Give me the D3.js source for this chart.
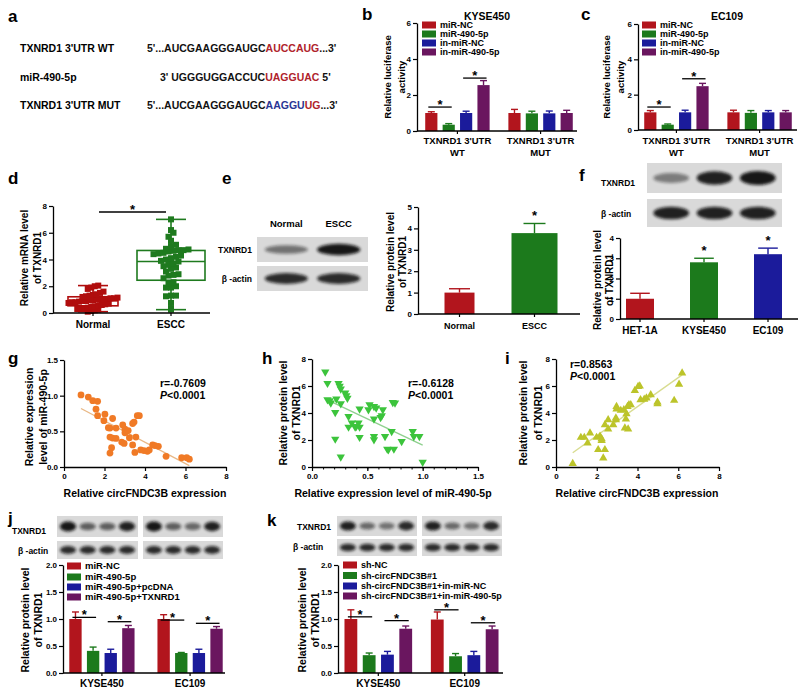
<!DOCTYPE html>
<html>
<head>
<meta charset="utf-8">
<script src="https://d3js.org/d3.v7.min.js"></script>
<style>
  body { margin: 0; background: #fff; }
  svg text { font-family: 'Liberation Sans', Arial, sans-serif; font-weight: bold; fill: #000; }
</style>
</head>
<body>
<div id="fig"></div>
<script>
// ---------- data ----------
// a: sequences
const seqLabels = ["TXNRD1 3'UTR WT", "miR-490-5p", "TXNRD1 3'UTR MUT"];
const seqParts = [
  [["5'...AUCGAAGGGAUGC", "k"], ["AUCCAUG", "r"], ["...3'", "k"]],
  [["3' UGGGUGGACCUC", "k"], ["UAGGUAC", "r"], [" 5'", "k"]],
  [["5'...AUCGAAGGGAUGC", "k"], ["AAGGU", "b"], ["UG", "r"], ["...3'", "k"]]
];

// b, c: luciferase
const lucSeries = ["miR-NC", "miR-490-5p", "in-miR-NC", "in-miR-490-5p"];
const lucGroups = [["TXNRD1 3'UTR", "WT"], ["TXNRD1 3'UTR", "MUT"]];
const lucTicks = [0, 2, 4, 6];
const bMean = [[1.0, 1.0], [0.35, 0.98], [1.0, 0.98], [2.55, 1.0]];
const bErr  = [[0.07, 0.2], [0.06, 0.12], [0.1, 0.13], [0.25, 0.15]];
const bSig  = [[0, 0, 1, 1.33], [0, 2, 3, 2.94]];
const cMean = [[1.0, 1.0], [0.3, 0.97], [1.0, 1.0], [2.48, 1.0]];
const cErr  = [[0.1, 0.12], [0.04, 0.13], [0.12, 0.1], [0.16, 0.1]];
const cSig  = [[0, 0, 1, 1.3], [0, 2, 3, 2.9]];

// d: mRNA
const dCats = ["Normal", "ESCC"];
const dTicks = [0, 2, 4, 6, 8];
const dNormal = [2.05, 2.0, 1.9, 1.8, 1.6, 1.5, 1.4, 1.35, 1.3, 1.25, 1.2, 1.15, 1.1, 1.1, 1.05, 1.0, 1.0, 1.0,
  0.95, 0.95, 0.9, 0.9, 0.85, 0.8, 0.8, 0.75, 0.7, 0.65, 0.6, 0.55, 0.5, 0.45, 0.4, 0.35, 0.3, 0.3, 0.25, 0.2, 0.15, 0.1];
const dEscc = [7.0, 6.2, 6.0, 5.7, 5.4, 5.1, 5.0, 4.8, 4.75, 4.7, 4.7, 4.65, 4.6, 4.5, 4.45, 4.4, 4.3, 4.2, 4.1, 4.0,
  3.9, 3.85, 3.7, 3.6, 3.5, 3.4, 3.3, 3.1, 2.9, 2.85, 2.8, 2.6, 2.3, 2.2, 2.0, 1.9, 1.9, 1.3, 1.3, 1.25, 0.75, 0.3, 0.25];

// e: protein tissue
const eCats = ["Normal", "ESCC"];
const eMean = [1.0, 3.78];
const eErr = [0.18, 0.45];
const eTicks = [0, 1, 2, 3, 4, 5];
const eTxnBands = [0.5, 0.95];
const eActBands = [0.85, 0.85];

// f: cell lines
const fCats = ["HET-1A", "KYSE450", "EC109"];
const fMean = [1.0, 2.8, 3.2];
const fErr = [0.27, 0.2, 0.3];
const fTicks = [0, 1, 2, 3, 4];
const fTxnBands = [0.45, 0.9, 0.95];
const fActBands = [0.9, 0.9, 0.9];

// g: circFNDC3B vs miR-490-5p
const gX = [0.84, 1.2, 1.42, 1.66, 1.58, 1.66, 2.02, 1.97, 2.4, 2.19, 2.27, 2.57, 2.27, 2.4, 2.57, 2.35, 2.27, 2.9, 3.01,
  3.01, 3.17, 3.23, 2.85, 2.97, 3.39, 3.46, 3.62, 3.72, 3.39, 3.55, 3.5, 3.79, 3.95, 4.12, 4.21, 4.38, 4.49, 4.66, 5.04, 5.81, 6.06, 6.19];
const gY = [1.01, 0.98, 0.93, 0.92, 0.81, 0.72, 0.74, 0.65, 0.68, 0.55, 0.545, 0.545, 0.42, 0.405, 0.4, 0.27, 0.195, 0.59, 0.53,
  0.48, 0.51, 0.41, 0.35, 0.33, 0.61, 0.63, 0.72, 0.72, 0.31, 0.42, 0.205, 0.24, 0.23, 0.22, 0.24, 0.31, 0.3, 0.29, 0.15, 0.13, 0.13, 0.11];

// h: miR-490-5p vs TXNRD1
const hX = [0.12, 0.14, 0.24, 0.25, 0.26, 0.14, 0.16, 0.17, 0.22, 0.26, 0.21, 0.3, 0.31, 0.32, 0.33, 0.36, 0.33, 0.39, 0.4, 0.43,
  0.42, 0.43, 0.43, 0.21, 0.26, 0.52, 0.51, 0.56, 0.58, 0.56, 0.62, 0.63, 0.64, 0.56, 0.56, 0.66, 0.68, 0.69, 0.73, 0.75, 0.72,
  0.74, 0.81, 0.91, 0.92, 0.97, 1.0];
const hY = [7.04, 6.2, 6.2, 5.98, 5.78, 4.99, 4.91, 4.74, 5.04, 4.69, 4.05, 5.48, 5.28, 5.1, 3.75, 3.26, 2.96, 2.96, 3.01, 2.96,
  3.26, 4.3, 2.2, 2.07, 0.74, 4.62, 4.25, 4.49, 4.37, 3.56, 3.68, 3.8, 4.25, 2.27, 2.02, 2.27, 1.33, 1.28, 4.79, 4.74, 2.64,
  1.33, 1.9, 2.64, 2.27, 2.27, 0.35];

// i: circFNDC3B vs TXNRD1
const iX = [0.82, 1.22, 1.39, 1.67, 1.55, 1.99, 2.16, 2.24, 2.24, 2.07, 2.4, 2.32, 2.4, 2.56, 2.56, 2.81, 2.94, 2.94, 2.97, 2.97,
  3.18, 3.33, 3.43, 3.46, 3.51, 3.58, 3.67, 3.38, 3.54, 3.87, 4.03, 4.11, 4.15, 4.33, 4.44, 4.65, 4.98, 4.98, 5.8, 6.04, 6.19];
const iY = [0.25, 2.19, 2.19, 2.51, 1.77, 2.19, 2.27, 2.09, 1.95, 1.28, 1.28, 0.66, 3.13, 3.5, 2.81, 3.13, 3.5, 3.62, 4.48, 4.29,
  4.19, 4.24, 3.55, 3.94, 4.48, 4.6, 4.6, 2.88, 2.81, 5.66, 5.96, 6.0, 4.98, 5.02, 5.1, 5.34, 4.8, 4.68, 4.93, 6.13, 6.95];

// j, k: rescue
const cellGroups = [["KYSE450"], ["EC109"]];
const rescueTicks = [0, 0.5, 1.0, 1.5, 2.0];
const jSeries = ["miR-NC", "miR-490-5p", "miR-490-5p+pcDNA", "miR-490-5p+TXNRD1"];
const jMean = [[1.0, 1.0], [0.41, 0.37], [0.37, 0.37], [0.83, 0.82]];
const jErr  = [[0.13, 0.08], [0.07, 0.01], [0.07, 0.07], [0.05, 0.04]];
const jSig  = [[0, 0, 1, 1.03], [0, 2, 3, 0.95], [1, 0, 1, 0.98], [1, 2, 3, 0.92]];
const jTxnBands = [0.95, 0.6, 0.6, 0.9, 0.95, 0.6, 0.55, 0.9];
const jActBands = [0.85, 0.85, 0.85, 0.85, 0.85, 0.85, 0.85, 0.85];
const kSeries = ["sh-NC", "sh-circFNDC3B#1", "sh-circFNDC3B#1+in-miR-NC", "sh-circFNDC3B#1+in-miR-490-5p"];
const kMean = [[1.0, 0.99], [0.33, 0.31], [0.34, 0.33], [0.82, 0.81]];
const kErr  = [[0.17, 0.14], [0.04, 0.05], [0.06, 0.07], [0.05, 0.06]];
const kSig  = [[0, 0, 1, 1.04], [0, 2, 3, 0.97], [1, 0, 1, 1.17], [1, 2, 3, 0.93]];
const kTxnBands = [0.9, 0.55, 0.5, 0.85, 0.9, 0.55, 0.5, 0.85];
const kActBands = [0.85, 0.85, 0.85, 0.85, 0.85, 0.85, 0.85, 0.85];

// ---------- style ----------
const FONT = "'Liberation Sans', Arial, sans-serif";
const RED = "#b2151d", GREEN = "#1c7a1c", BLUE = "#1b1b9b", PURPLE = "#6a165f";
const SERIES_COLORS = [RED, GREEN, BLUE, PURPLE];
const SEQ_COLORS = { k: "#111", r: "#b0232b", b: "#2a3594" };

const svg = d3.select("#fig").append("svg").attr("width", 800).attr("height", 688);
svg.append("defs").append("filter").attr("id", "blur")
  .attr("x", "-50%").attr("y", "-50%").attr("width", "200%").attr("height", "200%")
  .append("feGaussianBlur").attr("stdDeviation", 1.5);

function text(x, y, s, size, anchor) {
  return svg.append("text").attr("x", x).attr("y", y).attr("font-size", size)
    .attr("text-anchor", anchor || "start").text(s);
}
function panel(letter, x, y) { text(x, y, letter, 17); }

function yTitle(xs, cy, lines, size) {
  lines.forEach((l, i) => {
    const bx = xs[i] + size * 0.36;
    svg.append("text").attr("transform", `translate(${bx},${cy}) rotate(-90)`)
      .attr("font-size", size).attr("text-anchor", "middle").text(l);
  });
}

function styleAxis(ax) {
  ax.attr("font-family", FONT).attr("font-size", 8);
  ax.select(".domain").attr("stroke", "#000").attr("stroke-width", 1.3);
  ax.selectAll(".tick line").attr("stroke", "#000").attr("stroke-width", 1.2);
  ax.selectAll(".tick text").attr("font-weight", "bold");
}
function yAxis(y, x, ticks, fmt) {
  const ax = svg.append("g").attr("transform", `translate(${x},0)`)
    .call(d3.axisLeft(y).tickValues(ticks).tickFormat(fmt || d3.format("d")).tickSize(4).tickSizeOuter(0).tickPadding(2));
  styleAxis(ax);
}
function xAxisLine(x0, x1, y0, centers) {
  svg.append("line").attr("x1", x0).attr("x2", x1).attr("y1", y0).attr("y2", y0)
    .attr("stroke", "#000").attr("stroke-width", 1.3);
  centers.forEach(c => svg.append("line").attr("x1", c).attr("x2", c).attr("y1", y0).attr("y2", y0 + 3)
    .attr("stroke", "#000").attr("stroke-width", 1.2));
}

function errBar(cx, yTop, yErr, cap, color) {
  svg.append("line").attr("x1", cx).attr("x2", cx).attr("y1", yTop).attr("y2", yErr)
    .attr("stroke", color).attr("stroke-width", 1.4);
  svg.append("line").attr("x1", cx - cap / 2).attr("x2", cx + cap / 2).attr("y1", yErr).attr("y2", yErr)
    .attr("stroke", color).attr("stroke-width", 1.4);
}
function star(cx, y) { text(cx, y, "*", 13, "middle"); }

function legend(x, ys, labels, size) {
  labels.forEach((l, i) => {
    svg.append("rect").attr("x", x).attr("y", ys[i] - 3.5).attr("width", 14).attr("height", 7)
      .attr("fill", SERIES_COLORS[i]);
    text(x + 18, ys[i] + size * 0.36, l, size);
  });
}

// grouped bars: means[series][group]
function groupedBars(o) {
  const y = d3.scaleLinear().domain([0, o.max]).range([o.y0, o.yTop]);
  const gx = d3.scaleBand().domain(d3.range(o.groups.length)).range(o.range).paddingInner(o.padG);
  const sx = d3.scaleBand().domain(d3.range(o.means.length)).range([0, gx.bandwidth()]).padding(0.3);
  const cx = (gi, si) => gx(gi) + sx(si) + sx.bandwidth() / 2;
  o.means.forEach((row, si) => row.forEach((v, gi) => {
    svg.append("rect").attr("x", gx(gi) + sx(si)).attr("y", y(v)).attr("width", sx.bandwidth())
      .attr("height", o.y0 - y(v)).attr("fill", SERIES_COLORS[si]);
    errBar(cx(gi, si), y(v), y(v + o.errs[si][gi]), 7, SERIES_COLORS[si]);
  }));
  yAxis(y, o.axisX, o.ticks, o.fmt);
  const centers = o.groups.map((g, gi) => gx(gi) + gx.bandwidth() / 2);
  xAxisLine(o.axisX, o.axisEnd, o.y0, centers);
  o.groups.forEach((lines, gi) => lines.forEach((l, li) =>
    text(centers[gi], o.labelY + li * 12, l, o.labelSize, "middle")));
  o.sigs.forEach(([gi, a, b, v]) => {
    const x1 = cx(gi, a) - 3, x2 = cx(gi, b) + 3, yy = y(v);
    svg.append("line").attr("x1", x1).attr("x2", x2).attr("y1", yy).attr("y2", yy)
      .attr("stroke", "#000").attr("stroke-width", 1.3);
    star((x1 + x2) / 2, yy + 2);
  });
}

// simple bars: one value per category
function simpleBars(o) {
  const y = d3.scaleLinear().domain([0, o.max]).range([o.y0, o.yTop]);
  const x = d3.scaleBand().domain(o.cats).range(o.range);
  o.means.forEach((v, i) => {
    const c = x(o.cats[i]) + x.bandwidth() / 2, w = o.widths[i];
    svg.append("rect").attr("x", c - w / 2).attr("y", y(v)).attr("width", w).attr("height", o.y0 - y(v))
      .attr("fill", o.colors[i]);
    errBar(c, y(v), y(v + o.errs[i]), Math.min(w * 0.7, 22), o.colors[i]);
    if (o.stars[i]) star(c, y(v + o.errs[i]) - 3);
    text(c, o.labelY, o.cats[i], o.labelSize, "middle");
  });
  yAxis(y, o.axisX, o.ticks);
  xAxisLine(o.axisX, o.axisEnd, o.y0, o.cats.map(c => x(c) + x.bandwidth() / 2));
}

function blot(x, y, w, h, bands, lanes) {
  svg.append("rect").attr("x", x).attr("y", y).attr("width", w).attr("height", h).attr("fill", "#d9d9d9");
  const lx = d3.scaleBand().domain(d3.range(lanes)).range([x, x + w]).padding(0.12);
  bands.forEach((v, i) => svg.append("ellipse")
    .attr("cx", lx(i) + lx.bandwidth() / 2).attr("cy", y + h / 2)
    .attr("rx", lx.bandwidth() * 0.47).attr("ry", h * (0.1 + 0.14 * v))
    .attr("fill", "#111").attr("opacity", v).attr("filter", "url(#blur)"));
  return lx;
}

function scatter(o) {
  const x = d3.scaleLinear().domain(o.xDom).range(o.xRange);
  const y = d3.scaleLinear().domain(o.yDom).range(o.yRange);
  // least-squares line over the data range
  const mx = d3.mean(o.xs), my = d3.mean(o.ys);
  const slope = d3.sum(o.xs, (v, i) => (v - mx) * (o.ys[i] - my)) / d3.sum(o.xs, v => (v - mx) ** 2);
  const x0 = d3.min(o.xs), x1 = d3.max(o.xs);
  svg.append("line").attr("x1", x(x0)).attr("x2", x(x1))
    .attr("y1", y(my + slope * (x0 - mx))).attr("y2", y(my + slope * (x1 - mx)))
    .attr("stroke", o.lineColor).attr("stroke-width", 1.4);
  o.xs.forEach((v, i) => {
    if (o.shape === "circle") {
      svg.append("circle").attr("cx", x(v)).attr("cy", y(o.ys[i])).attr("r", 3.4).attr("fill", o.color);
    } else {
      svg.append("path").attr("d", d3.symbol().type(d3.symbolTriangle).size(30)())
        .attr("transform", `translate(${x(v)},${y(o.ys[i])}) rotate(${o.shape === "down" ? 180 : 0})`)
        .attr("fill", o.color);
    }
  });
  yAxis(y, o.xRange[0], o.yTicks, o.yFmt);
  const ax = svg.append("g").attr("transform", `translate(0,${o.yRange[0]})`)
    .call(d3.axisBottom(x).tickValues(o.xTicks).tickFormat(o.xFmt).tickSize(4).tickSizeOuter(0).tickPadding(2));
  styleAxis(ax);
  if (o.minor) {
    svg.append("g").attr("transform", `translate(0,${o.yRange[0]})`)
      .call(d3.axisBottom(x).tickValues(o.minor).tickFormat("").tickSize(2.5).tickSizeOuter(0))
      .call(g => { g.select(".domain").remove(); g.selectAll("line").attr("stroke", "#000"); });
  }
  text(o.annX, o.annY, o.r, 10.5);
  const p = text(o.annX, o.annY + 12, "", 10.5);
  p.append("tspan").attr("font-style", "italic").text("P");
  p.append("tspan").text("<0.0001");
  text(o.titleX, 497, o.xTitle, 10.5, "middle");
}

// ---------- panel a ----------
panel("a", 8, 22);
seqLabels.forEach((l, i) => {
  const yy = 52 + i * 28.5;
  text(20, yy, l, 10.5);
  const t = text(i === 1 ? 160 : 147, yy, "", 10.5);
  seqParts[i].forEach(([s, c]) => t.append("tspan").style("fill", SEQ_COLORS[c]).text(s));
});

// ---------- panel b ----------
panel("b", 362, 20);
text(487, 20, "KYSE450", 10.5, "middle");
groupedBars({ means: bMean, errs: bErr, groups: lucGroups, max: 6, y0: 131, yTop: 23, range: [420, 578], padG: 0.1,
  axisX: 417, axisEnd: 577, ticks: lucTicks, labelY: 144, labelSize: 9.5, sigs: bSig });
legend(422, [25, 34, 43, 52], lucSeries, 9);
yTitle([388, 402], 77, ["Relative luciferase", "activity"], 9.5);

// ---------- panel c ----------
panel("c", 581, 20);
text(727, 20, "EC109", 10.5, "middle");
groupedBars({ means: cMean, errs: cErr, groups: lucGroups, max: 6, y0: 130, yTop: 24, range: [639, 797], padG: 0.1,
  axisX: 638, axisEnd: 797, ticks: lucTicks, labelY: 144, labelSize: 9.5, sigs: cSig });
legend(642, [25, 34, 43, 52], lucSeries, 9);
yTitle([607, 621], 77, ["Relative luciferase", "activity"], 9.5);

// ---------- panel d ----------
panel("d", 8, 184);
{
  const y = d3.scaleLinear().domain([0, 8]).range([313, 206]);
  const x = d3.scaleBand().domain(dCats).range([54, 210]);
  const sets = [dNormal, dEscc], cols = ["#b00d0d", "#1e7a1e"], boxW = [50, 68], spread = [3.5, 5];
  sets.forEach((vals, i) => {
    const c = x(dCats[i]) + x.bandwidth() / 2;
    const s = vals.slice().sort(d3.ascending);
    const q1 = d3.quantile(s, 0.25), q2 = d3.quantile(s, 0.5), q3 = d3.quantile(s, 0.75);
    const mn = s[0], mx = s[s.length - 1];
    const ln = (x1, y1, x2, y2) => svg.append("line").attr("x1", x1).attr("y1", y1).attr("x2", x2).attr("y2", y2)
      .attr("stroke", cols[i]).attr("stroke-width", 1.6);
    svg.append("rect").attr("x", c - boxW[i] / 2).attr("y", y(q3)).attr("width", boxW[i]).attr("height", y(q1) - y(q3))
      .attr("fill", "none").attr("stroke", cols[i]).attr("stroke-width", 1.6);
    ln(c - boxW[i] / 2, y(q2), c + boxW[i] / 2, y(q2));
    ln(c, y(q3), c, y(mx)); ln(c, y(q1), c, y(mn));
    ln(c - 15, y(mx), c + 15, y(mx)); ln(c - 15, y(mn), c + 15, y(mn));
    // swarm: points sharing a 6px row spread sideways
    d3.groups(s, v => Math.round(y(v) / 6)).forEach(([, arr]) => arr.forEach((v, j) => {
      const px = c + (j - (arr.length - 1) / 2) * spread[i];
      svg.append("rect").attr("x", px - 3).attr("y", y(v) - 3).attr("width", 6).attr("height", 6).attr("fill", cols[i]);
    }));
    text(c, 328, dCats[i], 10, "middle");
  });
  yAxis(y, 53, dTicks);
  xAxisLine(53, 210, 313, dCats.map(c => x(c) + x.bandwidth() / 2));
  svg.append("line").attr("x1", 99).attr("x2", 166).attr("y1", 212).attr("y2", 212).attr("stroke", "#000").attr("stroke-width", 1.3);
  star(132.5, 214);
  yTitle([24, 37], 258, ["Relative mRNA level", "of TXNRD1"], 10);
}

// ---------- panel e ----------
panel("e", 222, 184);
{
  const lx = blot(257, 237, 111, 25, eTxnBands, 2);
  blot(257, 266, 111, 25, eActBands, 2);
  eCats.forEach((c, i) => text(lx(i) + lx.bandwidth() / 2, 227, c, 9.5, "middle"));
  text(252, 253, "TXNRD1", 8.5, "end");
  text(252, 282, "\u03B2 -actin", 8.5, "end");
  simpleBars({ cats: eCats, means: eMean, errs: eErr, colors: [RED, GREEN], widths: [30, 46], stars: [false, true],
    max: 5, y0: 314, yTop: 207, range: [422, 572], axisX: 418, axisEnd: 580, ticks: eTicks, labelY: 329, labelSize: 9 });
  yTitle([390, 402], 262, ["Relative protein level", "of TXNRD1"], 10);
}

// ---------- panel f ----------
panel("f", 579, 181);
{
  blot(647, 163, 135, 30, fTxnBands, 3);
  blot(647, 199, 135, 28, fActBands, 3);
  text(601, 186, "TXNRD1", 8.5);
  text(601, 217, "\u03B2 -actin", 8.5);
  simpleBars({ cats: fCats, means: fMean, errs: fErr, colors: [RED, GREEN, BLUE], widths: [28, 28, 28], stars: [false, true, true],
    max: 4, y0: 319, yTop: 238, range: [608, 800], axisX: 620, axisEnd: 798, ticks: fTicks, labelY: 334, labelSize: 10 });
  yTitle([597, 609], 280, ["Relative protein level", "of TXNRD1"], 10);
}

// ---------- panel g ----------
panel("g", 8, 364);
scatter({ xs: gX, ys: gY, xDom: [0, 8], xRange: [64, 226], yDom: [0, 1.5], yRange: [467, 360],
  xTicks: [0, 2, 4, 6, 8], xFmt: d3.format("d"), yTicks: [0, 0.5, 1.0, 1.5], yFmt: d3.format(".1f"),
  shape: "circle", color: "#f07a26", lineColor: "#e9b886", r: "r=-0.7609", annX: 160, annY: 387,
  xTitle: "Relative circFNDC3B expression", titleX: 145 });
yTitle([29, 43], 417, ["Relative expression", "level of miR-490-5p"], 10.5);

// ---------- panel h ----------
panel("h", 262, 364);
scatter({ xs: hX, ys: hY, xDom: [0, 1.5], xRange: [312, 478], yDom: [0, 8], yRange: [467, 359],
  xTicks: [0, 0.5, 1.0, 1.5], xFmt: d3.format(".1f"), yTicks: [0, 2, 4, 6, 8], yFmt: d3.format("d"),
  minor: d3.range(1, 15).map(i => i / 10), shape: "down", color: "#3cc43c", lineColor: "#8fd08f",
  r: "r=-0.6128", annX: 408, annY: 387, xTitle: "Relative expression level of miR-490-5p", titleX: 393 });
yTitle([283, 296], 413, ["Relative protein level", "of TXNRD1"], 10.5);

// ---------- panel i ----------
panel("i", 505, 364);
scatter({ xs: iX, ys: iY, xDom: [0, 8], xRange: [556, 719], yDom: [0, 8], yRange: [467, 359],
  xTicks: [0, 2, 4, 6, 8], xFmt: d3.format("d"), yTicks: [0, 2, 4, 6, 8], yFmt: d3.format("d"),
  shape: "up", color: "#bcc42a", lineColor: "#d8dc90", r: "r=0.8563", annX: 570, annY: 368,
  xTitle: "Relative circFNDC3B expression", titleX: 637 });
yTitle([523, 538], 413, ["Relative protein level", "of TXNRD1"], 10.5);

// ---------- panel j ----------
panel("j", 8, 524);
blot(57, 516, 81, 21, jTxnBands.slice(0, 4), 4);
blot(143, 516, 80, 21, jTxnBands.slice(4), 4);
blot(57, 541, 81, 18, jActBands.slice(0, 4), 4);
blot(143, 541, 80, 18, jActBands.slice(4), 4);
text(12, 534, "TXNRD1", 8.5);
text(18, 554, "\u03B2 -actin", 8.5);
groupedBars({ means: jMean, errs: jErr, groups: cellGroups, max: 2, y0: 673, yTop: 565, range: [64, 228], padG: 0.14,
  axisX: 63, axisEnd: 225, ticks: rescueTicks, fmt: d3.format(".1f"), labelY: 687, labelSize: 10, sigs: jSig });
legend(67, [566, 577, 587, 597], jSeries, 9.5);
yTitle([25, 38], 620, ["Relative protein level", "of TXNRD1"], 10.5);

// ---------- panel k ----------
panel("k", 267, 526);
blot(337, 516, 80, 20, kTxnBands.slice(0, 4), 4);
blot(422, 516, 80, 20, kTxnBands.slice(4), 4);
blot(337, 539, 80, 17, kActBands.slice(0, 4), 4);
blot(422, 539, 80, 17, kActBands.slice(4), 4);
text(297, 530, "TXNRD1", 8.5);
text(293, 550, "\u03B2 -actin", 8.5);
groupedBars({ means: kMean, errs: kErr, groups: cellGroups, max: 2, y0: 673, yTop: 565, range: [339, 504], padG: 0.09,
  axisX: 338, axisEnd: 503, ticks: rescueTicks, fmt: d3.format(".1f"), labelY: 687, labelSize: 10, sigs: kSig });
legend(343, [565, 575.5, 586, 596], kSeries, 9);
yTitle([302, 315], 620, ["Relative protein level", "of TXNRD1"], 10.5);
</script>
</body>
</html>
